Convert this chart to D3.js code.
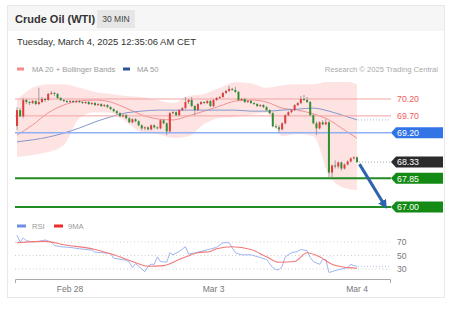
<!DOCTYPE html>
<html>
<head>
<meta charset="utf-8">
<script src="https://cdn.jsdelivr.net/npm/d3@7"></script>
<style>
  body { margin: 0; background: #fff; }
  svg { display: block; font-family: "Liberation Sans", Arial, sans-serif; }
</style>
</head>
<body>
<svg id="chart" width="454" height="313"></svg>
<script>
// 30 min candles [open, high, low, close]
const candles = [
  [69.40, 69.96, 69.27, 69.87], [69.87, 69.93, 69.66, 69.69], [69.69, 70.23, 69.63, 70.17], [70.17, 70.20, 70.05, 70.11],
  [70.11, 70.14, 70.02, 70.08], [70.08, 70.17, 70.05, 70.14], [70.14, 70.17, 70.02, 70.05], [70.05, 70.53, 70.02, 70.11],
  [70.11, 70.26, 70.08, 70.20], [70.20, 70.23, 70.11, 70.17], [70.17, 70.38, 70.14, 70.35], [70.35, 70.44, 70.32, 70.38],
  [70.38, 70.41, 70.29, 70.35], [70.35, 70.38, 70.20, 70.23], [70.23, 70.26, 70.14, 70.17], [70.17, 70.20, 70.11, 70.14],
  [70.14, 70.17, 70.08, 70.11], [70.11, 70.17, 70.08, 70.14], [70.14, 70.17, 70.08, 70.11], [70.11, 70.17, 70.08, 70.14],
  [70.14, 70.17, 70.08, 70.11], [70.11, 70.14, 70.05, 70.08], [70.08, 70.14, 70.05, 70.11], [70.11, 70.14, 70.02, 70.05],
  [70.05, 70.11, 70.02, 70.08], [70.08, 70.11, 69.99, 70.02], [70.02, 70.08, 69.99, 70.05], [70.05, 70.08, 69.96, 69.99],
  [69.99, 70.05, 69.96, 70.02], [70.02, 70.05, 69.93, 69.96], [69.96, 69.99, 69.87, 69.90], [69.90, 69.93, 69.81, 69.84],
  [69.84, 69.87, 69.75, 69.78], [69.78, 69.81, 69.66, 69.69], [69.69, 69.75, 69.66, 69.72], [69.72, 69.75, 69.60, 69.63],
  [69.63, 69.66, 69.48, 69.51], [69.51, 69.63, 69.48, 69.60], [69.60, 69.63, 69.51, 69.54], [69.54, 69.57, 69.39, 69.42],
  [69.42, 69.45, 69.27, 69.33], [69.33, 69.39, 69.27, 69.36], [69.36, 69.39, 69.27, 69.30], [69.30, 69.45, 69.27, 69.42],
  [69.42, 69.45, 69.33, 69.36], [69.36, 69.39, 69.30, 69.33], [69.33, 69.60, 69.30, 69.57], [69.57, 69.60, 69.45, 69.48],
  [69.48, 69.51, 69.13, 69.24], [69.24, 69.81, 69.21, 69.78], [69.78, 69.84, 69.75, 69.81], [69.81, 69.84, 69.69, 69.72],
  [69.72, 69.90, 69.69, 69.87], [69.87, 69.96, 69.84, 69.93], [69.93, 70.26, 69.90, 70.11], [70.11, 70.20, 70.05, 70.17],
  [70.17, 70.26, 69.96, 69.99], [69.99, 70.02, 69.72, 69.87], [69.87, 70.08, 69.84, 70.05], [70.05, 70.14, 70.02, 70.11],
  [70.11, 70.14, 70.05, 70.08], [70.08, 70.17, 70.05, 70.14], [70.14, 70.17, 69.96, 69.99], [69.99, 70.20, 69.96, 70.17],
  [70.17, 70.26, 70.14, 70.23], [70.23, 70.29, 70.20, 70.26], [70.26, 70.41, 70.23, 70.38], [70.38, 70.47, 70.35, 70.44],
  [70.44, 70.59, 70.41, 70.50], [70.50, 70.53, 70.44, 70.47], [70.47, 70.56, 70.38, 70.41], [70.41, 70.44, 70.14, 70.17],
  [70.17, 70.23, 70.14, 70.20], [70.20, 70.23, 70.08, 70.11], [70.11, 70.17, 70.08, 70.14], [70.14, 70.17, 70.05, 70.08],
  [70.08, 70.11, 70.02, 70.05], [70.05, 70.08, 69.96, 69.99], [69.99, 70.05, 69.96, 70.02], [70.02, 70.05, 69.93, 69.96],
  [69.96, 69.99, 69.84, 69.87], [69.87, 69.90, 69.75, 69.78], [69.78, 69.81, 69.36, 69.39], [69.39, 69.45, 69.33, 69.36],
  [69.36, 69.42, 69.21, 69.30], [69.30, 69.51, 69.27, 69.48], [69.48, 69.75, 69.45, 69.72], [69.72, 69.84, 69.69, 69.81],
  [69.81, 69.90, 69.78, 69.87], [69.87, 70.05, 69.84, 70.02], [70.02, 70.11, 69.99, 70.08], [70.08, 70.29, 70.05, 70.20],
  [70.20, 70.32, 70.14, 70.17], [70.17, 70.26, 70.08, 70.11], [70.11, 70.14, 69.69, 69.72], [69.72, 69.75, 69.45, 69.48],
  [69.48, 69.54, 69.13, 69.33], [69.33, 69.54, 69.30, 69.51], [69.51, 69.57, 69.42, 69.45], [69.45, 69.60, 69.42, 69.51],
  [69.51, 69.54, 67.87, 68.02], [68.02, 68.26, 67.87, 68.23], [68.23, 68.38, 68.14, 68.20], [68.20, 68.35, 68.14, 68.32],
  [68.32, 68.35, 68.08, 68.14], [68.14, 68.29, 68.11, 68.26], [68.26, 68.38, 68.23, 68.35], [68.35, 68.47, 68.32, 68.44],
  [68.44, 68.50, 68.41, 68.47], [68.47, 68.50, 68.30, 68.33]
];

// indicator samples (candle index)
const maIdx = [0, 5, 10, 15, 20, 25, 30, 35, 40, 45, 50, 55, 60, 65, 70, 75, 80, 85, 90, 95, 100, 105, 109];
const bbUpper = [70.17, 70.53, 70.64, 70.64, 70.53, 70.41, 70.35, 70.29, 70.26, 70.17, 70.08, 70.29, 70.35, 70.53, 70.70, 70.67, 70.53, 70.61, 70.64, 70.64, 70.72, 70.72, 70.64];
const bbLower = [68.48, 68.54, 68.63, 68.84, 69.64, 69.81, 69.79, 69.52, 69.22, 69.16, 69.05, 69.10, 69.46, 69.64, 69.67, 69.73, 69.79, 69.10, 69.16, 69.10, 67.95, 67.56, 67.50];
const ma20 = [69.13, 69.43, 69.79, 70.02, 70.14, 70.17, 70.11, 69.93, 69.73, 69.61, 69.58, 69.70, 69.84, 69.99, 70.14, 70.17, 70.11, 69.93, 69.87, 69.76, 69.58, 69.28, 69.04];
const ma50 = [68.93, 68.99, 69.07, 69.19, 69.34, 69.52, 69.67, 69.79, 69.84, 69.87, 69.87, 69.87, 69.87, 69.87, 69.87, 69.84, 69.84, 69.87, 69.90, 69.93, 69.84, 69.70, 69.58];

const rsiIdx = [0, 1, 2, 3, 5, 7, 9, 11, 12, 14, 17, 20, 24, 25, 30, 31, 35, 36, 37, 38, 40, 41, 42, 43, 44, 45, 46, 48, 49, 50, 52, 54, 55, 57, 59, 64, 66, 68, 70, 72, 75, 78, 80, 82, 83, 84, 85, 86, 88, 90, 91, 93, 94, 95, 97, 98, 99, 100, 101, 103, 106, 107, 108, 109];
const rsiVal = [80, 70, 76, 72, 70, 71, 73, 70, 65, 63, 62, 60, 58, 55, 53, 46, 43, 40, 32, 38, 30, 26, 34, 37, 37, 48, 41, 40, 54, 51, 56, 63, 52, 54, 56, 62, 69, 69, 54, 51, 51, 47, 44, 32, 29, 29, 34, 48, 54, 56, 59, 57, 47, 41, 37, 44, 44, 25, 26, 29, 32, 37, 35, 34];
const rsiMaIdx = [0, 9, 15, 25, 31, 37, 42, 47, 52, 58, 62, 64, 69, 75, 80, 84, 89, 93, 97, 101, 106, 109];
const rsiMaVal = [69, 71, 66, 59, 51, 41, 34, 35, 44, 54, 56, 60, 63, 59, 48, 40, 41, 54, 48, 37, 32, 31];
const rsiTicks = [70, 50, 30];

const levelValues = [70.20, 69.70, 69.20, 67.85, 67.00];
const levelKinds = ['res', 'res', 'pivot', 'sup', 'sup'];
const lastPrice = 68.33;
const arrowFrom = [109.8, 68.27];
const arrowTo = [117.8, 67.06];

const dateTicks = [17, 63, 109];
const dateLabels = ['Feb 28', 'Mar 3', 'Mar 4'];

const svg = d3.select('#chart');
const font = '"Liberation Sans", Arial, sans-serif';

// card
svg.append('rect').attr('x', 7.5).attr('y', 5.5).attr('width', 437).attr('height', 292)
  .attr('fill', '#fff').attr('stroke', '#e8e8e8');
svg.append('rect').attr('x', 8).attr('y', 6).attr('width', 436).attr('height', 25).attr('fill', '#f6f6f6');

svg.append('text').attr('x', 15).attr('y', 22.5).attr('font-size', 11).attr('font-weight', 'bold')
  .attr('fill', '#333').text('Crude Oil (WTI)');
svg.append('rect').attr('x', 97).attr('y', 10).attr('width', 38).attr('height', 18).attr('fill', '#e6e6e6');
svg.append('text').attr('x', 116).attr('y', 22).attr('text-anchor', 'middle').attr('font-size', 8.5)
  .attr('fill', '#444').text('30 MIN');

svg.append('text').attr('x', 17).attr('y', 44.5).attr('font-size', 9.5).attr('fill', '#333')
  .text('Tuesday, March 4, 2025 12:35:06 AM CET');

// legend
svg.append('rect').attr('x', 17).attr('y', 67.5).attr('width', 7).attr('height', 3).attr('fill', '#f48a8a');
svg.append('text').attr('x', 32).attr('y', 72).attr('font-size', 7.6).attr('fill', '#999').text('MA 20 + Bollinger Bands');
svg.append('rect').attr('x', 123).attr('y', 67.5).attr('width', 7).attr('height', 3).attr('fill', '#2f5597');
svg.append('text').attr('x', 137).attr('y', 72).attr('font-size', 7.6).attr('fill', '#999').text('MA 50');
svg.append('text').attr('x', 438).attr('y', 72).attr('text-anchor', 'end').attr('font-size', 7.6)
  .attr('fill', '#aaa').text('Research © 2025 Trading Central');

// scales
const x = d3.scaleLinear().domain([0, 109]).range([17, 357]);
const y = d3.scaleLinear().domain([67.00, 70.20]).range([207, 99]);
const yr = d3.scaleLinear().domain([30, 70]).range([269, 242]);

svg.append('clipPath').attr('id', 'plotClip').append('rect')
  .attr('x', 14).attr('y', 82).attr('width', 346).attr('height', 110);

const plot = svg.append('g').attr('clip-path', 'url(#plotClip)');

// bollinger band
const bb = maIdx.map((d, i) => ({ i: d, u: bbUpper[i], l: bbLower[i] }));
plot.append('path').datum(bb)
  .attr('d', d3.area().curve(d3.curveMonotoneX).x(d => x(d.i)).y0(d => y(d.l)).y1(d => y(d.u)))
  .attr('fill', '#fdd9d9').attr('opacity', 0.75);

// level lines
const levelStyle = {
  res: { stroke: '#f4a3a3', width: 1, text: '#f25c5c' },
  pivot: { stroke: '#8fb0f5', width: 1.6, box: '#3274e6' },
  sup: { stroke: '#228b22', width: 2, box: '#138a13' }
};
levelValues.forEach((v, k) => {
  const st = levelStyle[levelKinds[k]];
  svg.append('line').attr('x1', 15).attr('x2', 391).attr('y1', y(v)).attr('y2', y(v))
    .attr('stroke', st.stroke).attr('stroke-width', st.width);
});

// moving averages
const lineGen = d3.line().curve(d3.curveMonotoneX).x(d => x(d[0])).y(d => y(d[1]));
plot.append('path').datum(maIdx.map((d, i) => [d, ma20[i]])).attr('d', lineGen)
  .attr('fill', 'none').attr('stroke', '#f39090').attr('stroke-width', 1);
plot.append('path').datum(maIdx.map((d, i) => [d, ma50[i]])).attr('d', lineGen)
  .attr('fill', 'none').attr('stroke', '#8497cc').attr('stroke-width', 1);

// candles
const cw = 2;
const cg = svg.append('g');
candles.forEach((c, i) => {
  const [o, h, l, cl] = c;
  const up = cl >= o;
  const col = up ? '#e23b3b' : '#2f8f2f';
  cg.append('line').attr('x1', x(i)).attr('x2', x(i)).attr('y1', y(h)).attr('y2', y(l))
    .attr('stroke', '#8c8c8c').attr('stroke-width', 0.8);
  const top = y(Math.max(o, cl));
  const hgt = Math.max(1, Math.abs(y(o) - y(cl)));
  cg.append('rect').attr('x', x(i) - cw / 2).attr('y', top).attr('width', cw).attr('height', hgt)
    .attr('fill', col);
});

// dotted markers to axis
const lastI = candles.length - 1;
svg.append('line').attr('x1', x(lastI) + 2).attr('x2', 390).attr('y1', y(lastPrice)).attr('y2', y(lastPrice))
  .attr('stroke', '#aaa').attr('stroke-dasharray', '1,2');
svg.append('line').attr('x1', x(lastI) + 1).attr('x2', 390)
  .attr('y1', y(ma50[ma50.length - 1])).attr('y2', y(ma50[ma50.length - 1]))
  .attr('stroke', '#a9b8dc').attr('stroke-dasharray', '1,2');

// price labels
function tag(v, fill) {
  const yc = y(v), x0 = 391, x1 = 443, hh = 5.5;
  svg.append('path')
    .attr('d', `M${x0},${yc} L${x0 + 5},${yc - hh} L${x1},${yc - hh} L${x1},${yc + hh} L${x0 + 5},${yc + hh} Z`)
    .attr('fill', fill);
  svg.append('text').attr('x', 397).attr('y', yc + 3.2).attr('font-size', 8.8).attr('fill', '#fff')
    .text(v.toFixed(2));
}
levelValues.forEach((v, k) => {
  const st = levelStyle[levelKinds[k]];
  if (st.box) tag(v, st.box);
  else svg.append('text').attr('x', 397).attr('y', y(v) + 3.2).attr('font-size', 8.8)
    .attr('fill', st.text).text(v.toFixed(2));
});
tag(lastPrice, '#2b2b2b');

// arrow
svg.append('defs').append('marker').attr('id', 'ah').attr('viewBox', '0 0 10 10')
  .attr('refX', 5).attr('refY', 5).attr('markerWidth', 3).attr('markerHeight', 3).attr('orient', 'auto')
  .append('path').attr('d', 'M0,0 L10,5 L0,10 Z').attr('fill', '#2d62ad');
svg.append('line').attr('x1', x(arrowFrom[0])).attr('y1', y(arrowFrom[1]))
  .attr('x2', x(arrowTo[0])).attr('y2', y(arrowTo[1]))
  .attr('stroke', '#2d62ad').attr('stroke-width', 3).attr('marker-end', 'url(#ah)');

// RSI panel
svg.append('rect').attr('x', 17).attr('y', 224.5).attr('width', 9).attr('height', 3).attr('fill', '#6f8fe6');
svg.append('text').attr('x', 32).attr('y', 229).attr('font-size', 7.6).attr('fill', '#999').text('RSI');
svg.append('rect').attr('x', 54).attr('y', 224.5).attr('width', 9).attr('height', 3).attr('fill', '#ee2a2a');
svg.append('text').attr('x', 68).attr('y', 229).attr('font-size', 7.6).attr('fill', '#999').text('9MA');

rsiTicks.forEach(t => {
  svg.append('line').attr('x1', 15).attr('x2', 390).attr('y1', yr(t)).attr('y2', yr(t))
    .attr('stroke', '#cfcfcf').attr('stroke-dasharray', '1,2.5');
  svg.append('text').attr('x', 397).attr('y', yr(t) + 3).attr('font-size', 8.5).attr('fill', '#777').text(t);
});

const rline = d3.line().x(d => x(d[0])).y(d => yr(d[1]));
svg.append('path').datum(rsiIdx.map((d, i) => [d, rsiVal[i]])).attr('d', rline)
  .attr('fill', 'none').attr('stroke', '#9db5f2').attr('stroke-width', 1);
svg.append('path').datum(rsiMaIdx.map((d, i) => [d, rsiMaVal[i]]))
  .attr('d', rline.curve(d3.curveMonotoneX))
  .attr('fill', 'none').attr('stroke', '#f27878').attr('stroke-width', 1.1);
svg.append('line').attr('x1', x(lastI) + 1).attr('x2', 390)
  .attr('y1', yr(rsiVal[rsiVal.length - 1])).attr('y2', yr(rsiVal[rsiVal.length - 1]))
  .attr('stroke', '#b3c5f2').attr('stroke-dasharray', '1,2');

// time axis
const xAxis = svg.append('g');
xAxis.append('path').attr('d', 'M15.5,283 V279.5 H390.5 V283').attr('fill', 'none').attr('stroke', '#aaa');
dateTicks.forEach((t, k) => {
  xAxis.append('text').attr('x', x(t)).attr('y', 291.5).attr('text-anchor', 'middle')
    .attr('font-size', 8.5).attr('fill', '#777').text(dateLabels[k]);
});
</script>
</body>
</html>
